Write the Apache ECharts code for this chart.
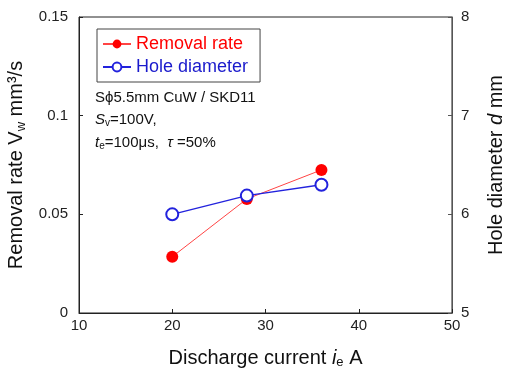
<!DOCTYPE html>
<html>
<head>
<meta charset="utf-8">
<script src="https://cdn.jsdelivr.net/npm/echarts@6/dist/echarts.min.js"></script>
<style>
  html, body { margin: 0; padding: 0; background: #fff; }
  #chart { width: 508px; height: 378px; }
</style>
</head>
<body>
<div id="chart"></div>
<script>
  // discharge current i_e (A)
  var current = [20, 28, 36]
  // removal rate Vw (mm3/s)
  var removalRate = [0.0285, 0.0578, 0.0725]
  // hole diameter d (mm)
  var holeDiameter = [6.0, 6.19, 6.30]

  var font = 'Liberation Sans, Arial, sans-serif'

  function pairs(xs, ys) {
    return xs.map(function (x, i) { return [x, ys[i]] })
  }

  var chart = echarts.init(document.getElementById('chart'))
  chart.setOption({
    animation: false,
    textStyle: { fontFamily: font },
    grid: {
      left: 79,
      right: 56,
      top: 17,
      bottom: 65,
      outerBoundsMode: 'none',
      show: true,
      borderColor: '#222',
      borderWidth: 1
    },
    legend: {
      orient: 'vertical',
      left: 97,
      top: 29,
      itemWidth: 28,
      itemHeight: 11,
      itemGap: 5,
      padding: [6, 12, 6, 5],
      borderColor: '#444',
      borderWidth: 1,
      textStyle: { fontSize: 18, fontFamily: font },
      data: [
        { name: 'Removal rate', textStyle: { color: '#ff0000' } },
        { name: 'Hole diameter', textStyle: { color: '#1a1acc' } }
      ]
    },
    xAxis: {
      type: 'value',
      min: 10,
      max: 50,
      interval: 10,
      name: '{n|Discharge current }{i|i}{s|e}{n| A}',
      nameLocation: 'middle',
      nameGap: 34,
      nameTextStyle: {
        rich: {
          n: { fontSize: 20, color: '#111', fontFamily: font },
          i: { fontSize: 20, color: '#111', fontStyle: 'italic', fontFamily: font },
          s: { fontSize: 13, color: '#111', padding: [9, 0, 0, 0], fontFamily: font }
        }
      },
      axisLine: { lineStyle: { color: '#222' } },
      axisTick: { inside: true, length: 4, lineStyle: { color: '#222' } },
      axisLabel: { fontSize: 15, color: '#222', margin: 5 },
      splitLine: { show: false }
    },
    yAxis: [
      {
        type: 'value',
        min: 0,
        max: 0.15,
        interval: 0.05,
        name: '{n|Removal rate V}{s|w}{n| mm³/s}',
        nameLocation: 'middle',
        nameGap: 43,
        nameTextStyle: {
          rich: {
            n: { fontSize: 20, color: '#111', fontFamily: font },
            s: { fontSize: 13, color: '#111', padding: [9, 0, 0, 0], fontFamily: font }
          }
        },
        axisLine: { show: true, lineStyle: { color: '#222' } },
        axisTick: { show: true, inside: true, length: 4, lineStyle: { color: '#222' } },
        axisLabel: { fontSize: 15, color: '#222', margin: 11 },
        splitLine: { show: false }
      },
      {
        type: 'value',
        min: 5,
        max: 8,
        interval: 1,
        position: 'right',
        name: '{n|Hole diameter }{i|d}{n| mm}',
        nameLocation: 'middle',
        nameGap: 34,
        nameRotate: 90,
        nameTextStyle: {
          rich: {
            n: { fontSize: 20, color: '#111', fontFamily: font },
            i: { fontSize: 20, color: '#111', fontStyle: 'italic', fontFamily: font }
          }
        },
        axisLine: { show: true, lineStyle: { color: '#555' } },
        axisTick: { show: true, inside: true, length: 4, lineStyle: { color: '#555' } },
        axisLabel: { fontSize: 15, color: '#222', margin: 9 },
        splitLine: { show: false }
      }
    ],
    graphic: [
      {
        type: 'text',
        left: 95,
        top: 90,
        style: {
          text: 'Sϕ5.5mm CuW / SKD11',
          font: '15px ' + font,
          fill: '#111'
        }
      },
      {
        type: 'text',
        left: 95,
        top: 112,
        style: {
          text: '{i|S}{s|v}{n|=100V,}',
          fill: '#111',
          rich: {
            n: { fontSize: 15, fontFamily: font, fill: '#111' },
            i: { fontSize: 15, fontFamily: font, fontStyle: 'italic', fill: '#111' },
            s: { fontSize: 10, fontFamily: font, padding: [7, 0, 0, 0], fill: '#111' }
          }
        }
      },
      {
        type: 'text',
        left: 95,
        top: 135,
        style: {
          text: '{i|t}{s|e}{n|=100μs,  }{i|τ}{n| =50%}',
          fill: '#111',
          rich: {
            n: { fontSize: 15, fontFamily: font, fill: '#111' },
            i: { fontSize: 15, fontFamily: font, fontStyle: 'italic', fill: '#111' },
            s: { fontSize: 10, fontFamily: font, padding: [7, 0, 0, 0], fill: '#111' }
          }
        }
      }
    ],
    series: [
      {
        name: 'Removal rate',
        type: 'line',
        yAxisIndex: 0,
        data: pairs(current, removalRate),
        symbol: 'circle',
        symbolSize: 12,
        itemStyle: { color: '#ff0000' },
        lineStyle: { color: '#ff4444', width: 1 },
        z: 3
      },
      {
        name: 'Hole diameter',
        type: 'line',
        yAxisIndex: 1,
        data: pairs(current, holeDiameter),
        symbol: 'emptyCircle',
        symbolSize: 12,
        itemStyle: { color: '#2222dd', borderWidth: 1.2 },
        lineStyle: { color: '#2222dd', width: 1.3 },
        z: 4
      }
    ]
  })
</script>
</body>
</html>
